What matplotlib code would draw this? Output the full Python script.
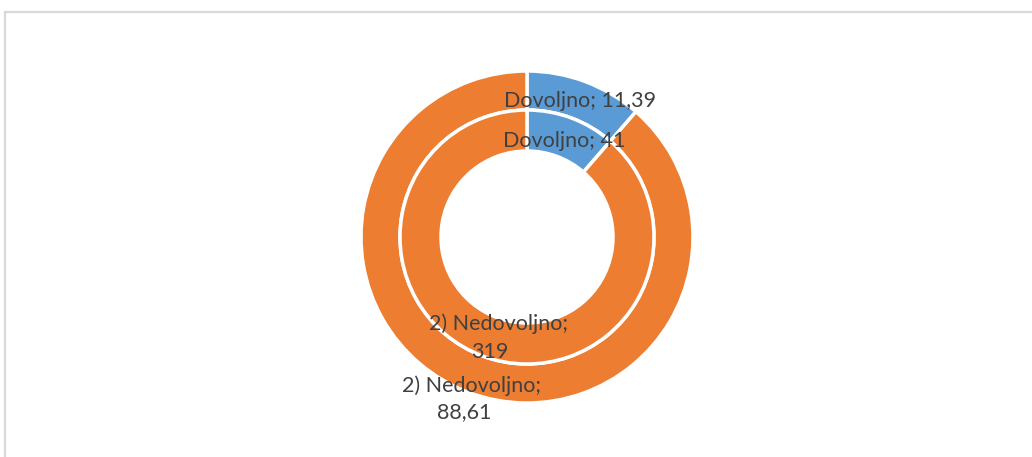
import numpy as np
import matplotlib
matplotlib.use("Agg")
import matplotlib.pyplot as plt
from matplotlib.patches import Rectangle

categories = ["Dovoljno", "2) Nedovoljno"]
outer_values = [11.39, 88.61]
outer_labels = ["11,39", "88,61"]
inner_values = [41, 319]
inner_labels = ["41", "319"]
colors = ["#5B9BD5", "#ED7D31"]

W, H = 1032, 457
fig = plt.figure(figsize=(W / 100, H / 100), dpi=100)
ax = fig.add_axes([0, 0, 1, 1])

# chart area border
fig.patches.append(Rectangle((5 / W, -0.1), 1.2, (H - 12) / H + 0.1, transform=fig.transFigure,
                             fill=False, edgecolor="#D9D9D9", linewidth=1.6))

cx, cy = 527, H - 237
R_out, R_mid, R_in = 166, 127, 86
wp = dict(edgecolor="white", linewidth=2.5)

ax.pie(outer_values, radius=R_out, center=(cx, cy), colors=colors, startangle=90,
       counterclock=False, wedgeprops=dict(width=R_out - R_mid, **wp), frame=True)
ax.pie(inner_values, radius=R_mid, center=(cx, cy), colors=colors, startangle=90,
       counterclock=False, wedgeprops=dict(width=R_mid - R_in, **wp), frame=True)
ax.set_xlim(0, W)
ax.set_ylim(0, H)
ax.set_aspect("equal")
ax.axis("off")

font = dict(family=["Lato", "DejaVu Sans"], fontsize=15.5, color="#404040",
            ha="center", va="center")

def mid_angles(vals):
    tot = sum(vals)
    c = np.cumsum([0] + list(vals))
    return [(c[i] + c[i + 1]) / 2 / tot * 2 * np.pi for i in range(len(vals))]

def ring_point(a, r):
    return cx + r * np.sin(a), cy + r * np.cos(a)

# outer labels
a0, a1 = mid_angles(outer_values)
r = (R_out + R_mid) / 2
x, y = ring_point(a0, r)
ax.text(x + 2, y - 1, f"{categories[0]}; {outer_labels[0]}", **font)
x, y = ring_point(a1, r)
ax.text(x - 4, y - 11, f"{categories[1]};", **font)
ax.text(x - 12, y - 38, outer_labels[1], **font)

# inner labels
a0, a1 = mid_angles(inner_values)
r = (R_mid + R_in) / 2
x, y = ring_point(a0, r)
ax.text(x, y - 4, f"{categories[0]}; {inner_labels[0]}", **font)
x, y = ring_point(a1, r)
ax.text(x + 9, y + 13, f"{categories[1]};", **font)
ax.text(x, y - 15, inner_labels[1], **font)

fig.savefig("out.png", dpi=100)
